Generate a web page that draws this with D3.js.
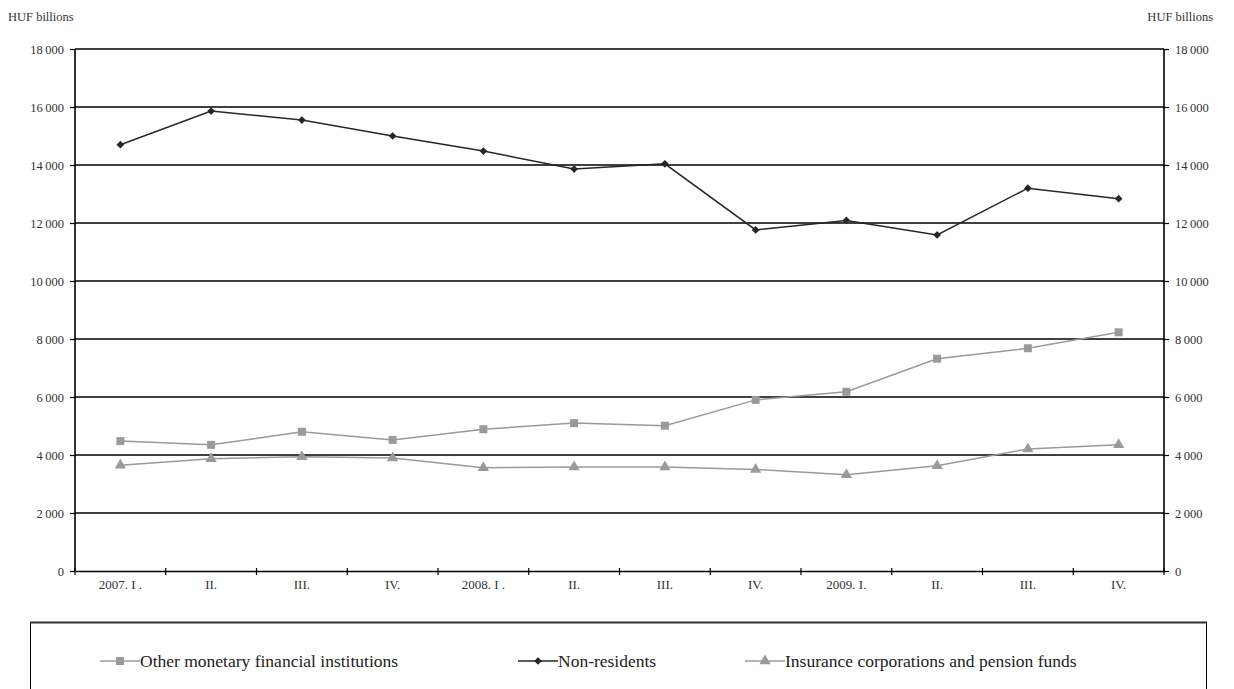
<!DOCTYPE html>
<html>
<head>
<meta charset="utf-8">
<script src="https://cdn.jsdelivr.net/npm/d3@7"></script>
<style>
  html, body { margin: 0; padding: 0; background: #fff; }
  svg { display: block; }
  svg text { font-family: "Liberation Serif", "DejaVu Serif", serif; }
</style>
</head>
<body>
<svg id="chart" width="1234" height="689"></svg>
<script>
// Quarters shown on the horizontal axis
const quarters = ["2007. I .", "II.", "III.", "IV.", "2008. I .", "II.", "III.", "IV.", "2009. I.", "II.", "III.", "IV."];

// Holdings by sector, HUF billions
const otherMFI = [4480, 4350, 4800, 4520, 4890, 5100, 5010, 5900, 6180, 7320, 7680, 8230];
const nonResidents = [14700, 15860, 15550, 15000, 14480, 13860, 14040, 11760, 12090, 11590, 13200, 12840];
const insurancePension = [3650, 3870, 3940, 3900, 3560, 3590, 3590, 3500, 3320, 3630, 4210, 4350];

const yTicks = [0, 2000, 4000, 6000, 8000, 10000, 12000, 14000, 16000, 18000];
const unitLabel = "HUF billions";

const series = [
  { name: "Other monetary financial institutions", values: otherMFI, color: "#9a9a9a", marker: "square" },
  { name: "Non-residents", values: nonResidents, color: "#262626", marker: "diamond" },
  { name: "Insurance corporations and pension funds", values: insurancePension, color: "#9a9a9a", marker: "triangle" }
];

const svg = d3.select("#chart");
const m = { left: 75, right: 1164, top: 49, bottom: 571 };

// Quarter labels repeat across years, so the band scale works on positions
const idx = quarters.map((q, i) => i);
const x = d3.scaleBand().domain(idx).range([m.left, m.right]).paddingInner(0).paddingOuter(0);
const y = d3.scaleLinear().domain([0, 18000]).range([m.bottom, m.top]);
const fmt = v => d3.format(",")(v).replace(/,/g, "\u2009");

// Horizontal gridlines
svg.append("g").selectAll("line").data(yTicks.filter(d => d > 0)).join("line")
  .attr("x1", m.left).attr("x2", m.right)
  .attr("y1", d => y(d)).attr("y2", d => y(d))
  .attr("stroke", "#000").attr("stroke-width", 1.4);

// Left and right value axes
const leftAxis = svg.append("g").attr("transform", `translate(${m.left},0)`)
  .call(d3.axisLeft(y).tickValues(yTicks).tickSize(5).tickPadding(6).tickFormat(fmt));
const rightAxis = svg.append("g").attr("transform", `translate(${m.right},0)`)
  .call(d3.axisRight(y).tickValues(yTicks).tickSize(5).tickPadding(6).tickFormat(fmt));

[leftAxis, rightAxis].forEach(g => {
  g.attr("font-family", null);
  g.select(".domain").attr("stroke", "#000").attr("stroke-width", 1.6)
    .attr("d", `M0,${m.top}V${m.bottom}`);
  g.selectAll(".tick line").attr("stroke", "#000").attr("stroke-width", 1.2);
  g.selectAll(".tick text").attr("font-size", 12.5).attr("fill", "#333");
});

// Category axis with ticks at quarter boundaries
const xAxis = svg.append("g").attr("transform", `translate(0,${m.bottom})`)
  .call(d3.axisBottom(x).tickSize(0).tickPadding(9).tickFormat(i => quarters[i]));
xAxis.attr("font-family", null);
xAxis.select(".domain").attr("stroke", "#000").attr("stroke-width", 1.6);
xAxis.selectAll(".tick text").attr("font-size", 13).attr("fill", "#333");
const boundaries = idx.map(i => x(i)).concat([m.right]);
xAxis.selectAll("line.tk").data(boundaries).join("line").attr("class", "tk")
  .attr("x1", d => d).attr("x2", d => d).attr("y1", -3).attr("y2", 4)
  .attr("stroke", "#000").attr("stroke-width", 1.2);

// Unit labels
svg.append("text").attr("x", 8).attr("y", 21).attr("font-size", 12.5).attr("fill", "#333").text(unitLabel);
svg.append("text").attr("x", 1213).attr("y", 21).attr("text-anchor", "end").attr("font-size", 12.5).attr("fill", "#333").text(unitLabel);

// Marker shapes; the diamond is a square turned by 45 degrees
const symbolFor = {
  square: { path: d3.symbol().type(d3.symbolSquare).size(64)(), rotate: 0 },
  diamond: { path: d3.symbol().type(d3.symbolSquare).size(30)(), rotate: 45 },
  triangle: { path: d3.symbol().type(d3.symbolTriangle).size(55)(), rotate: 0 }
};

const cx = i => x(i) + x.bandwidth() / 2;
const line = d3.line().x((d, i) => cx(i)).y(d => y(d));

series.forEach(s => {
  const sym = symbolFor[s.marker];
  svg.append("path").datum(s.values).attr("d", line)
    .attr("fill", "none").attr("stroke", s.color).attr("stroke-width", 1.5);
  svg.append("g").selectAll("path").data(s.values).join("path")
    .attr("transform", (d, i) => `translate(${cx(i)},${y(d)}) rotate(${sym.rotate})`)
    .attr("d", sym.path)
    .attr("fill", s.color);
});

// Legend box, open at the bottom edge of the page
const lg = svg.append("g");
lg.append("rect").attr("x", 30.5).attr("y", 622.5).attr("width", 1176).attr("height", 80)
  .attr("fill", "#fff").attr("stroke", "#000").attr("stroke-width", 1);
lg.append("line").attr("x1", 30).attr("x2", 1207).attr("y1", 622.5).attr("y2", 622.5)
  .attr("stroke", "#333").attr("stroke-width", 2);

const legendX = [100, 518, 745];
series.forEach((s, i) => {
  const sym = symbolFor[s.marker];
  const g = lg.append("g").attr("transform", `translate(${legendX[i]},661)`);
  g.append("line").attr("x1", 0).attr("x2", 40).attr("y1", 0).attr("y2", 0)
    .attr("stroke", s.color).attr("stroke-width", 1.5);
  g.append("path").attr("transform", `translate(20,0) rotate(${sym.rotate})`).attr("d", sym.path).attr("fill", s.color);
  g.append("text").attr("x", 40).attr("y", 6).attr("font-size", 17.5).attr("fill", "#222").text(s.name);
});
</script>
</body>
</html>
